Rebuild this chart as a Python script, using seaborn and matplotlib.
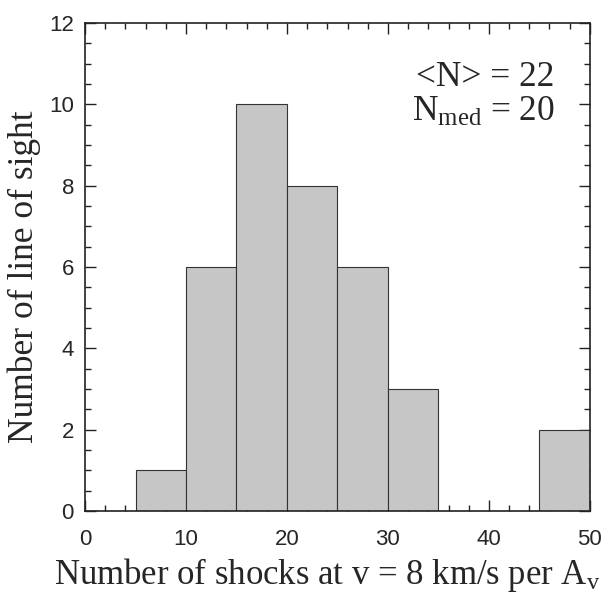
import matplotlib
matplotlib.use("Agg")
import matplotlib.pyplot as plt
import seaborn as sns
import numpy as np
from matplotlib.ticker import MultipleLocator

bin_centers = [7.5, 12.5, 17.5, 22.5, 27.5, 32.5, 37.5, 42.5, 47.5]
counts = [1, 6, 10, 8, 6, 3, 0, 0, 2]
bin_edges = [0, 5, 10, 15, 20, 25, 30, 35, 40, 45, 50]
xticks = [0, 10, 20, 30, 40, 50]
yticks = [0, 2, 4, 6, 8, 10, 12]

sns.set_style("ticks")
plt.rcParams['font.family'] = ['Liberation Serif', 'DejaVu Serif']
plt.rcParams['mathtext.fontset'] = 'custom'
plt.rcParams['mathtext.rm'] = 'Liberation Serif'
plt.rcParams['mathtext.it'] = 'Liberation Serif'

fig = plt.figure(figsize=(6.09, 5.98), dpi=100)
ax = fig.add_axes([0.1396, 0.1455, 0.829, 0.816])

sns.histplot(x=bin_centers, weights=counts, bins=bin_edges, ax=ax,
             color="#c6c6c6", edgecolor="#333333", linewidth=0.8, alpha=1.0)

ax.set_xlim(0, 50)
ax.set_ylim(0, 12)
ax.set_xticks(xticks)
ax.set_yticks(yticks)
ax.xaxis.set_minor_locator(MultipleLocator(2))
ax.yaxis.set_minor_locator(MultipleLocator(0.5))
ax.tick_params(which='both', direction='in', top=True, right=True, color='#222222', width=1.0)
ax.tick_params(which='major', length=8, labelsize=16)
ax.tick_params(which='minor', length=4)
ax.tick_params(axis='x', which='major', pad=13)
ax.tick_params(axis='y', which='major', pad=8)
for lab in ax.get_xticklabels() + ax.get_yticklabels():
    lab.set_fontfamily('Liberation Sans')
for s in ax.spines.values():
    s.set_linewidth(1.2)
    s.set_color('#222222')

ax.set_xlabel(r"Number of shocks at v = 8 km/s per A$_\mathrm{v}$", fontsize=25, labelpad=4)
ax.xaxis.set_label_coords(0.48, -0.093, transform=ax.transAxes)
ax.xaxis.label.set_va('top')
ax.set_ylabel("Number of line of sight", fontsize=25.5, labelpad=6)
ax.yaxis.label.set_y(0.48)

ax.text(0.93, 0.889, "<N> = 22", transform=ax.transAxes, fontsize=25.5, ha='right', va='center')
ax.text(0.93, 0.816, r"N$_\mathrm{med}$ = 20", transform=ax.transAxes, fontsize=25.5, ha='right', va='center')

fig.savefig("out.png", dpi=100, facecolor='white')
